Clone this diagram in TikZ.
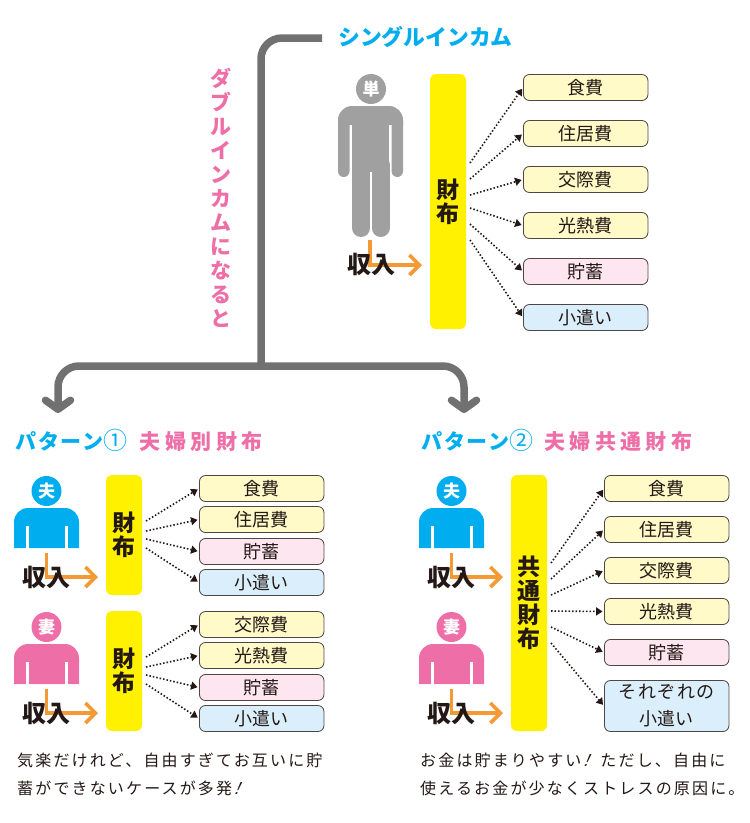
\documentclass[tikz,border=0pt]{standalone}
\usepackage{fontspec}
\setmainfont{Noto Sans CJK JP}
\usetikzlibrary{arrows.meta}
\definecolor{ink}{HTML}{231815}
\definecolor{wire}{HTML}{717171}
\definecolor{cblue}{HTML}{00AEEF}
\definecolor{cpink}{HTML}{EE6FA8}
\definecolor{cgray}{HTML}{A0A0A0}
\definecolor{corange}{HTML}{F39A35}
\definecolor{cyel}{HTML}{FFF100}
\definecolor{byel}{HTML}{FFFAC8}
\definecolor{bpink}{HTML}{FDE6F0}
\definecolor{bblue}{HTML}{DAEFFB}
\newcommand{\slbang}{\hspace{-4pt}{\addfontfeature{FakeSlant=0.45}！}}
\tikzset{
 x=1pt,y=-1pt,
 itembox/.style={draw=ink!80,line width=.8pt,rounded corners=6pt,minimum width=124.5pt,minimum height=26pt,inner sep=0pt,font=\fontsize{18}{27}\selectfont,text=ink,align=center},
 yelbar/.style={fill=cyel,rounded corners=6pt,minimum width=36pt,inner sep=0pt,font=\fontsize{23}{24}\selectfont\bfseries,text=ink,align=center},
 dotline/.style={ink,line width=1.6pt,dash pattern=on 1.5pt off 2pt,-{Triangle[length=6.5pt,width=8pt,sep=1.5pt]}},
 inc/.style={corange,line width=3.6pt,-{Straight Barb[length=10pt,width=20pt]}},
 inctext/.style={inner sep=0pt,font=\fontsize{24}{24}\selectfont\bfseries,text=ink},
 headc/.style={circle,minimum size=30pt,inner sep=0pt,text=white,font=\fontsize{17}{17}\selectfont\bfseries},
 wirel/.style={wire,line width=7.5pt,rounded corners=21pt},
 wirea/.style={wirel,-{Straight Barb[round,length=9pt,width=25pt]}},
 label/.style={inner sep=0pt,anchor=west},
 note/.style={inner sep=0pt,anchor=west,text=ink,font=\fontsize{16}{16}\selectfont},
}
\newcommand{\halfperson}[6]{% x0 y0 colour headname headtext incomename
 \fill[#3] (#1,#2+40) -- (#1,#2+14) arc[start angle=180,end angle=90,radius=14pt] -- (#1+51,#2) arc[start angle=90,end angle=0,radius=14pt] -- (#1+65,#2+40) -- cycle;
 \fill[white] (#1+11.5,#2+18) rectangle (#1+14.5,#2+41);
 \fill[white] (#1+51,#2+18) rectangle (#1+54,#2+41);
 \node[headc,fill=#3] (#4) at (#1+32.5,#2-17) {#5};
 \coordinate (#6s) at (#1+32.5,#2+45);
 \coordinate (#6e) at (#1+32.5,#2+69);
 \coordinate (#6t) at (#1+84,#2+69);
 \draw[inc,line join=miter] (#6s) -- (#6e) -- (#6t);
 \node[inctext] (#6) at (#1+32.5,#2+69) {収入};
}
\begin{document}
\begin{tikzpicture}
\useasboundingbox (0,0) rectangle (750,823);
% ---- titles
\node[label,text=cblue,font=\fontsize{21.8}{22}\selectfont\bfseries] (single) at (338,37) {シングルインカム};
\node[inner sep=0pt,text=cpink,align=center,font=\fontsize{21}{24}\selectfont\bfseries] (dbl) at (221,198) {ダ\\ブ\\ル\\イ\\ン\\カ\\ム\\に\\な\\る\\と};
\node[label,font=\fontsize{21}{22}\selectfont\bfseries] (pat1) at (15,440) {\textcolor{cblue}{\addfontfeature{LetterSpace=9}パターン{\mdseries\fontsize{24}{22}\selectfont ①}}\hspace{12pt}\textcolor{cpink}{\addfontfeature{LetterSpace=21}夫婦別財布}};
\node[label,font=\fontsize{21}{22}\selectfont\bfseries] (pat2) at (421,440) {\textcolor{cblue}{\addfontfeature{LetterSpace=9}パターン{\mdseries\fontsize{24}{22}\selectfont ②}}\hspace{10.5pt}\textcolor{cpink}{\addfontfeature{LetterSpace=21}夫婦共通財布}};
% ---- main wires
\coordinate (jn) at (261,366);
\coordinate (cl) at (58,413);
\coordinate (cr) at (464,413);
\coordinate (tl) at (58,366);
\coordinate (tr) at (464,366);
\coordinate (tc) at (261,38);
\coordinate (ts) at (322,38);
\draw[wirel] (ts) -- (tc) -- (jn);
\draw[wirea] (jn) -- (tl) -- (cl);
\draw[wirea] (jn) -- (tr) -- (cr);
% ---- single person
\fill[cgray] (338,125) -- (338,120) arc[start angle=180,end angle=90,radius=14pt] -- (389,106) arc[start angle=90,end angle=0,radius=14pt] -- (403,125) -- cycle;
\fill[cgray,rounded corners=5.7pt] (338,115) rectangle (349.5,177);
\fill[cgray,rounded corners=5.7pt] (391.6,115) rectangle (403,177);
\fill[cgray] (352,120) rectangle (389,175);
\draw[cgray,line width=18pt,line cap=round] (361,165) -- (361,228);
\draw[cgray,line width=18pt,line cap=round] (380.5,165) -- (380.5,228);
\fill[white] (370,172) rectangle (372,240);
\node[headc,fill=cgray] (h0) at (371,89) {単};
\coordinate (i0s) at (370,240);
\coordinate (i0e) at (370,265);
\coordinate (i0t) at (422,265);
\draw[inc,line join=miter] (i0s) -- (i0e) -- (i0t);
\node[inctext] (i0) at (371,264) {収入};
% ---- single wallet
\node[yelbar,minimum height=255pt] (w0) at (448,201.5) {財\\布};
\node[itembox,fill=byel] (a1) at (585.7,87.5) {食費};
\node[itembox,fill=byel] (a2) at (585.7,133.5) {住居費};
\node[itembox,fill=byel] (a3) at (585.7,179.5) {交際費};
\node[itembox,fill=byel] (a4) at (585.7,225.5) {光熱費};
\node[itembox,fill=bpink] (a5) at (585.7,271.5) {貯蓄};
\node[itembox,fill=bblue] (a6) at (585.7,317.5) {小遣い};
\coordinate (s1) at (470,163);\coordinate (s2) at (470,179);\coordinate (s3) at (470,195);
\coordinate (s4) at (470,208);\coordinate (s5) at (470,224);\coordinate (s6) at (470,240);
\foreach \k in {1,...,6}{\draw[dotline] (s\k) -- (a\k.west);}
% ---- pattern 1
\halfperson{14}{508}{cblue}{h1}{夫}{i1}
\halfperson{14}{644}{cpink}{h2}{妻}{i2}
\node[yelbar,minimum height=120pt] (w1) at (124,535) {財\\布};
\node[yelbar,minimum height=120pt] (w2) at (124,671) {財\\布};
\node[itembox,fill=byel] (b1) at (261.7,488.5) {食費};
\node[itembox,fill=byel] (b2) at (261.7,519.5) {住居費};
\node[itembox,fill=bpink] (b3) at (261.7,551.5) {貯蓄};
\node[itembox,fill=bblue] (b4) at (261.7,582.5) {小遣い};
\node[itembox,fill=byel] (b5) at (261.7,624.5) {交際費};
\node[itembox,fill=byel] (b6) at (261.7,655.5) {光熱費};
\node[itembox,fill=bpink] (b7) at (261.7,687.5) {貯蓄};
\node[itembox,fill=bblue] (b8) at (261.7,718.5) {小遣い};
\coordinate (p1) at (146,521);\coordinate (p2) at (146,531);\coordinate (p3) at (146,539);\coordinate (p4) at (146,548);
\coordinate (p5) at (146,657);\coordinate (p6) at (146,667);\coordinate (p7) at (146,675);\coordinate (p8) at (146,684);
\foreach \k in {1,...,8}{\draw[dotline] (p\k) -- (b\k.west);}
% ---- pattern 2
\halfperson{419}{508}{cblue}{h3}{夫}{i3}
\halfperson{419}{644}{cpink}{h4}{妻}{i4}
\node[yelbar,minimum height=256pt] (w3) at (529,603) {共\\通\\財\\布};
\node[itembox,fill=byel] (c1) at (666.7,488.5) {食費};
\node[itembox,fill=byel] (c2) at (666.7,529.5) {住居費};
\node[itembox,fill=byel] (c3) at (666.7,570.5) {交際費};
\node[itembox,fill=byel] (c4) at (666.7,611.5) {光熱費};
\node[itembox,fill=bpink] (c5) at (666.7,652.5) {貯蓄};
\node[itembox,fill=bblue,minimum height=51pt] (c6) at (666.7,706) {\addfontfeature{LetterSpace=8}それぞれの\\小遣い};
\coordinate (q1) at (551,563);\coordinate (q2) at (551,579);\coordinate (q3) at (551,595);
\coordinate (q4) at (551,611);\coordinate (q5) at (551,627);\coordinate (q6) at (551,643);
\foreach \k in {1,...,6}{\draw[dotline] (q\k) -- (c\k.west);}
% ---- notes
\node[note] (n1) at (17,760) {\addfontfeature{LetterSpace=13.5}気楽だけれど、自由すぎてお互いに貯};
\node[note] (n2) at (17,788) {\addfontfeature{LetterSpace=13.5}蓄ができないケースが多発\slbang};
\node[note] (n3) at (420,760) {\addfontfeature{LetterSpace=13.5}お金は貯まりやすい\slbang\hspace{7pt}ただし、自由に};
\node[note] (n4) at (420,788) {\addfontfeature{LetterSpace=13.5}使えるお金が少なくストレスの原因に。};
\end{tikzpicture}
\end{document}
